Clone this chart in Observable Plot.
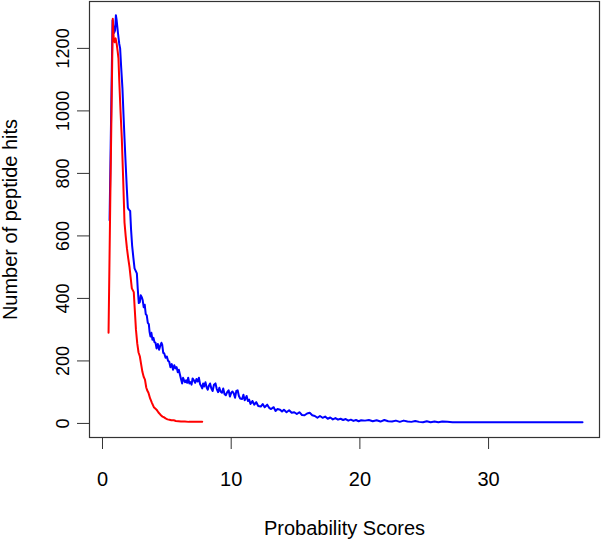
<!DOCTYPE html>
<html>
<head>
<meta charset="utf-8">
<script src="https://cdn.jsdelivr.net/npm/d3@7"></script>
<script src="https://cdn.jsdelivr.net/npm/@observablehq/plot@0.6"></script>
<style>
  html, body { margin: 0; padding: 0; background: #ffffff; }
  #chart svg { display: block; }
</style>
</head>
<body>
<div id="chart"></div>
<script>
// ---- Data ----
const xLabel = "Probability Scores";
const yLabel = "Number of peptide hits";
const xTicks = [0, 10, 20, 30];
const yTicks = [0, 200, 400, 600, 800, 1000, 1200];

const blueScore = [0.55, 0.78, 0.9, 0.98, 1.04, 1.1, 1.2, 1.3, 1.37, 1.45, 1.55, 1.63, 1.71, 1.8, 1.89, 1.97, 2.05, 2.15, 2.22, 2.3, 2.4, 2.49, 2.58, 2.67, 2.74, 2.82, 2.9, 2.97, 3.05, 3.12, 3.2, 3.28, 3.36, 3.44, 3.52, 3.6, 3.66, 3.73, 3.8, 3.88, 3.96, 4.04, 4.12, 4.2, 4.3, 4.4, 4.5, 4.58, 4.64, 4.72, 4.8, 4.9, 5.0, 5.1, 5.18, 5.28, 5.38, 5.48, 5.58, 5.67, 5.76, 5.85, 5.93, 6.02, 6.1, 6.19, 6.26, 6.32, 6.42, 6.5, 6.58, 6.66, 6.75, 6.84, 6.92, 7.0, 7.1, 7.2, 7.3, 7.4, 7.49, 7.58, 7.66, 7.75, 7.82, 7.9, 8.0, 8.1, 8.18, 8.26, 8.36, 8.46, 8.56, 8.66, 8.78, 8.88, 8.98, 9.08, 9.17, 9.28, 9.38, 9.48, 9.58, 9.69, 9.8, 9.9, 10.0, 10.1, 10.2, 10.3, 10.4, 10.5, 10.6, 10.7, 10.85, 10.95, 11.05, 11.2, 11.3, 11.4, 11.5, 11.65, 11.8, 11.95, 12.1, 12.3, 12.45, 12.6, 12.8, 12.95, 13.1, 13.3, 13.45, 13.6, 13.8, 13.95, 14.1, 14.3, 14.5, 14.7, 14.9, 15.1, 15.3, 15.5, 15.7, 15.9, 16.1, 16.3, 16.5, 16.7, 16.9, 17.1, 17.3, 17.5, 17.7, 17.9, 18.1, 18.3, 18.5, 18.7, 18.9, 19.1, 19.3, 19.5, 19.7, 19.9, 20.1, 20.4, 20.7, 21.0, 21.3, 21.6, 21.9, 22.2, 22.5, 22.8, 23.1, 23.4, 23.7, 24.0, 24.3, 24.6, 24.9, 25.2, 25.5, 25.8, 26.1, 26.4, 26.8, 27.2, 30.0, 33.0, 37.3];
const blueHits  = [650, 1290, 1250, 1258, 1306, 1290, 1250, 1215, 1200, 1140, 1072, 990, 912, 830, 752, 690, 684, 680, 620, 570, 530, 496, 488, 480, 430, 385, 388, 410, 404, 395, 372, 380, 350, 346, 322, 318, 292, 278, 290, 268, 274, 260, 258, 240, 254, 236, 250, 258, 252, 226, 224, 210, 214, 200, 198, 180, 190, 172, 186, 176, 180, 164, 172, 156, 142, 128, 146, 140, 132, 138, 130, 146, 128, 132, 124, 144, 138, 130, 142, 134, 146, 126, 120, 112, 128, 118, 132, 114, 108, 120, 128, 112, 104, 124, 128, 110, 100, 114, 102, 98, 112, 94, 90, 100, 106, 86, 98, 102, 96, 82, 104, 106, 88, 80, 78, 92, 74, 88, 72, 76, 62, 72, 60, 68, 56, 54, 62, 52, 60, 50, 46, 52, 40, 46, 44, 38, 44, 36, 42, 34, 36, 30, 36, 27, 26, 32, 34, 26, 24, 18, 24, 18, 22, 15, 19, 13, 17, 12, 15, 11, 14, 9, 12, 8, 11, 7, 10, 9, 11, 7, 10, 6, 11, 7, 6, 9, 5, 9, 6, 5, 8, 5, 4, 7, 4, 6, 4, 6, 5, 4, 4, 4, 4];

const redScore = [0.47, 0.6, 0.8, 0.88, 0.95, 1.02, 1.1, 1.18, 1.24, 1.3, 1.4, 1.5, 1.6, 1.71, 1.8, 1.9, 2.0, 2.1, 2.18, 2.28, 2.43, 2.5, 2.6, 2.7, 2.8, 2.9, 3.0, 3.1, 3.21, 3.3, 3.4, 3.47, 3.57, 3.7, 3.85, 3.99, 4.1, 4.2, 4.35, 4.5, 4.65, 4.76, 4.9, 5.05, 5.2, 5.35, 5.54, 5.7, 5.9, 6.1, 6.4, 6.7, 7.0, 7.4, 7.75];
const redHits  = [290, 700, 1295, 1225, 1220, 1232, 1215, 1190, 1168, 1100, 1000, 912, 790, 643, 600, 560, 528, 500, 470, 432, 420, 370, 300, 256, 227, 215, 190, 165, 148, 140, 115, 106, 98, 80, 65, 52, 48, 44, 35, 28, 22, 20, 16, 13, 12, 10, 10, 8, 7, 6, 6, 5, 5, 5, 5];

const series = [
  {name: "blue", color: "#0000ff", score: blueScore, hits: blueHits},
  {name: "red", color: "#ff0000", score: redScore, hits: redHits}
];
const rows = series.flatMap(s => s.score.map((x, i) => ({series: s.name, color: s.color, x, y: s.hits[i]})));

const font = "'Liberation Sans', Arial, Helvetica, sans-serif";

const chart = Plot.plot({
  width: 601,
  height: 539,
  marginLeft: 89,
  marginRight: 2,
  marginTop: 1,
  marginBottom: 102,
  style: {fontFamily: font, background: "#ffffff", color: "#000000"},
  x: {domain: [-1.01, 38.62]},
  y: {domain: [-45, 1350]},
  marks: [
    Plot.axisX({ticks: xTicks, tickSize: 12, tickPadding: 22, fontSize: 20, label: null, tickFormat: d => String(d), stroke: "#333"}),
    Plot.axisY({ticks: yTicks, tickSize: 12, tickPadding: 9, tickRotate: -90, fontSize: 18, label: null, tickFormat: d => String(d), stroke: "#333"}),
    Plot.line(rows, {x: "x", y: "y", z: "series", stroke: "color", strokeWidth: 2, strokeLinejoin: "round"}),
    Plot.frame({stroke: "#333", strokeWidth: 1.2}),
    Plot.text([xLabel], {frameAnchor: "bottom", dy: 91, fontSize: 20, lineAnchor: "middle", textAnchor: "middle", text: d => d}),
    Plot.text([yLabel], {frameAnchor: "left", dx: -79, rotate: -90, fontSize: 20, lineAnchor: "middle", textAnchor: "middle", text: d => d})
  ]
});
document.getElementById("chart").appendChild(chart);
</script>
</body>
</html>
